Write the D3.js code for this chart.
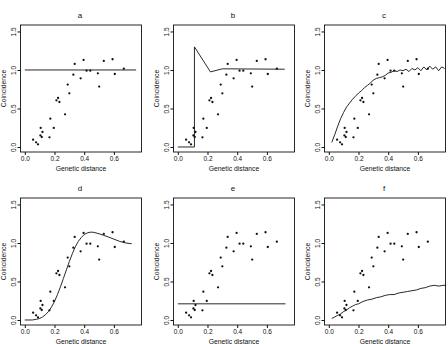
<!DOCTYPE html>
<html><head><meta charset="utf-8">
<script src="https://cdn.jsdelivr.net/npm/d3@7"></script>
<style>body{margin:0;background:#fff;} svg{display:block;} text{font-family:"Liberation Sans",Arial,Helvetica,sans-serif;fill:#111;}</style>
</head><body><svg id="chart" width="448" height="344"></svg>
<script>
const panelNames = ["a","b","c","d","e","f"];
const xTicks = [0, 0.2, 0.4, 0.6];
const yTicks = [0, 0.5, 1.0, 1.5];
const xTitle = "Genetic distance";
const yTitle = "Coincidence";

// observed points (same in every panel)
const pointX = [0.056,0.076,0.089,0.107,0.105,0.114,0.119,0.166,0.172,0.195,0.213,0.224,0.233,0.271,0.289,0.300,0.327,0.336,0.376,0.396,0.416,0.441,0.492,0.501,0.532,0.591,0.606,0.667];
const pointY = [0.095,0.060,0.035,0.247,0.150,0.130,0.195,0.125,0.368,0.247,0.606,0.636,0.584,0.424,0.810,0.697,0.939,1.078,0.892,1.130,0.991,0.991,0.957,0.784,1.117,1.139,0.948,1.017];

// fitted curves, one per panel
const curveAx = [0.0, 0.75];
const curveAy = [1.0, 1.0];
const curveBx = [0.0, 0.112, 0.112, 0.22, 0.25, 0.30, 0.72];
const curveBy = [0.0, 0.0, 1.30, 0.975, 0.99, 1.015, 1.01];
const curveCx = [0.02,0.04,0.06,0.08,0.10,0.12,0.14,0.16,0.18,0.20,0.22,0.24,0.26,0.28,0.30,0.32,0.34,0.36,0.38,0.40,0.42,0.44,0.46,0.48,0.50,0.52,0.54,0.56,0.58,0.60,0.62,0.64,0.66,0.68,0.70,0.72,0.74,0.76,0.78];
const curveCy = [0.06,0.16,0.27,0.37,0.45,0.52,0.57,0.62,0.66,0.70,0.73,0.77,0.80,0.83,0.87,0.89,0.90,0.91,0.93,0.96,0.97,0.99,0.98,1.00,0.99,1.01,0.98,1.02,1.00,1.03,0.99,1.04,1.00,1.05,1.01,1.04,0.99,1.04,1.02];
const curveDx = [0.00,0.05,0.08,0.10,0.12,0.14,0.16,0.18,0.20,0.22,0.24,0.26,0.28,0.30,0.32,0.34,0.36,0.38,0.40,0.42,0.44,0.46,0.48,0.50,0.53,0.56,0.60,0.64,0.68,0.72];
const curveDy = [0.00,0.00,0.01,0.02,0.04,0.07,0.11,0.17,0.24,0.33,0.43,0.54,0.65,0.76,0.86,0.95,1.02,1.07,1.11,1.13,1.14,1.14,1.13,1.12,1.10,1.08,1.05,1.02,1.00,0.99];
const curveEx = [0.0, 0.725];
const curveEy = [0.21, 0.21];
const curveFx = [0.02,0.04,0.06,0.08,0.10,0.12,0.14,0.16,0.18,0.20,0.23,0.26,0.29,0.32,0.35,0.38,0.41,0.44,0.47,0.50,0.53,0.56,0.59,0.62,0.65,0.68,0.71,0.74,0.77,0.79];
const curveFy = [0.02,0.04,0.06,0.08,0.11,0.13,0.16,0.18,0.20,0.21,0.24,0.26,0.27,0.29,0.30,0.32,0.33,0.33,0.35,0.36,0.37,0.38,0.39,0.41,0.42,0.44,0.45,0.44,0.45,0.45];

const curvesX = [curveAx, curveBx, curveCx, curveDx, curveEx, curveFx];
const curvesY = [curveAy, curveBy, curveCy, curveDy, curveEy, curveFy];

const svg = d3.select("#chart");
const colLeft = [20.5, 173.5, 324.5];
const rowTop = [25, 198];
const W = 121, H = 127;

panelNames.forEach((name, i) => {
  const left = colLeft[i % 3], top = rowTop[Math.floor(i / 3)];
  const x = d3.scaleLinear().domain([-0.029, 0.786]).range([0, W]);
  const y = d3.scaleLinear().domain([-0.065, 1.584]).range([H, 0]);
  const g = svg.append("g").attr("transform", `translate(${left},${top})`);

  g.append("rect").attr("width", W).attr("height", H)
    .attr("fill", "none").attr("stroke", "#111").attr("stroke-width", 0.9);

  const xa = g.append("g").attr("transform", `translate(0,${H})`)
    .call(d3.axisBottom(x).tickValues(xTicks).tickSize(3).tickFormat(d3.format(".1f")));
  xa.select(".domain").remove();
  xa.selectAll("line").attr("stroke", "#111");
  xa.selectAll("text").attr("y", 4).attr("font-size", 6.5).style("font-family", "Liberation Sans, Arial, sans-serif");

  const ya = g.append("g")
    .call(d3.axisLeft(y).tickValues(yTicks).tickSize(3).tickFormat(d3.format(".1f")));
  ya.select(".domain").remove();
  ya.selectAll("line").attr("stroke", "#111");
  ya.selectAll("text").attr("x", null).attr("dy", null).attr("text-anchor", "middle")
    .attr("transform", "translate(-5,0) rotate(-90)").attr("font-size", 6.5)
    .style("font-family", "Liberation Sans, Arial, sans-serif");

  g.append("text").attr("x", W / 2).attr("y", H + 18.5).attr("text-anchor", "middle")
    .attr("font-size", 6.8).text(xTitle);
  g.append("text").attr("transform", `translate(-14.5,${H / 2}) rotate(-90)`)
    .attr("text-anchor", "middle").attr("font-size", 6.8).text(yTitle);
  g.append("text").attr("x", W / 2 - 1).attr("y", -7.5).attr("text-anchor", "middle")
    .attr("font-size", 8).text(name);

  const line = d3.line().x(d => x(d[0])).y(d => y(d[1]));
  const pts = curvesX[i].map((v, k) => [v, curvesY[i][k]]);
  g.append("path").attr("d", line(pts)).attr("fill", "none")
    .attr("stroke", "#111").attr("stroke-width", 0.9);

  g.selectAll("circle.pt").data(pointX.map((v, k) => [v, pointY[k]])).enter()
    .append("circle").attr("class", "pt")
    .attr("cx", d => x(d[0])).attr("cy", d => y(d[1])).attr("r", 1.15).attr("fill", "#111");
});
</script></body></html>
